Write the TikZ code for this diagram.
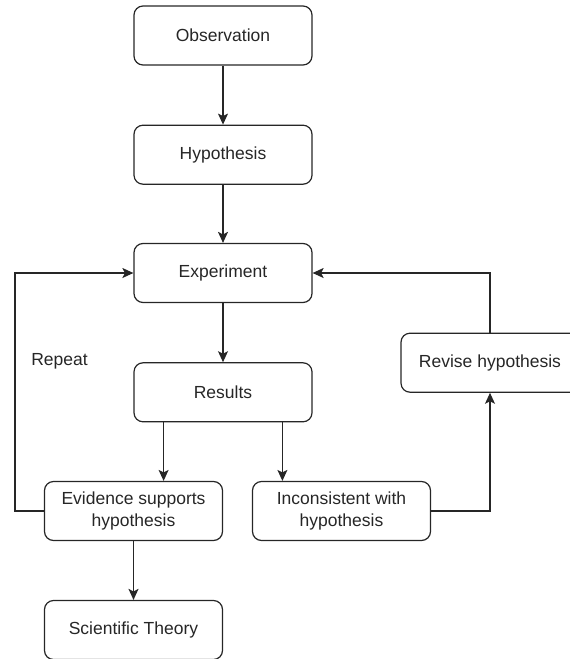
\documentclass[tikz,border=0pt]{standalone}
\usepackage{fontspec}
\setmainfont{Liberation Sans}
\usetikzlibrary{arrows.meta}
\begin{document}
\begin{tikzpicture}[x=1pt,y=-1pt,
  box/.style={draw=black!85, line width=1.2pt, rounded corners=9pt, minimum width=178pt, minimum height=59pt,
    align=center, inner sep=0pt, font=\fontsize{17.5}{21.5}\selectfont, text=black!85},
  conn/.style={draw=black!85, line width=1.2pt, -{Stealth[length=11pt,width=10pt,inset=2.5pt]}}]
\useasboundingbox (0,0) rectangle (570,659);
\node[box] (obs) at (223,35.5) {Observation};
\node[box] (hyp) at (223,154.7) {Hypothesis};
\node[box] (exp) at (223,273) {Experiment};
\node[box] (res) at (223,392.3) {Results};
\node[box] (evi) at (133.5,511) {Evidence supports\\hypothesis};
\node[box] (inc) at (341.5,511) {Inconsistent with\\hypothesis};
\node[box] (rev) at (490,362.7) {Revise hypothesis};
\node[box] (sci) at (133.5,630) {Scientific Theory};
\node[font=\fontsize{17.5}{21.5}\selectfont, text=black!85] (rep) at (59.5,361) {Repeat};
\coordinate (lc) at (15,511);
\coordinate (rc) at (490,273);
\draw[conn] (obs) -- (hyp);
\draw[conn] (hyp) -- (exp);
\draw[conn] (exp) -- (res);
\draw[conn] (res.south -| evi.north east) ++(-59.5,0) coordinate (r1) -- (r1 |- evi.north);
\draw[conn] (res.south -| inc.north west) ++(30.5,0) coordinate (r2) -- (r2 |- inc.north);
\draw[conn] (evi.west) -- (lc) |- (exp.west);
\draw[conn] (inc.east) -| (rev.south);
\draw[conn] (rev.north) |- (exp.east);
\draw[conn] (evi) -- (sci);
\end{tikzpicture}
\end{document}
